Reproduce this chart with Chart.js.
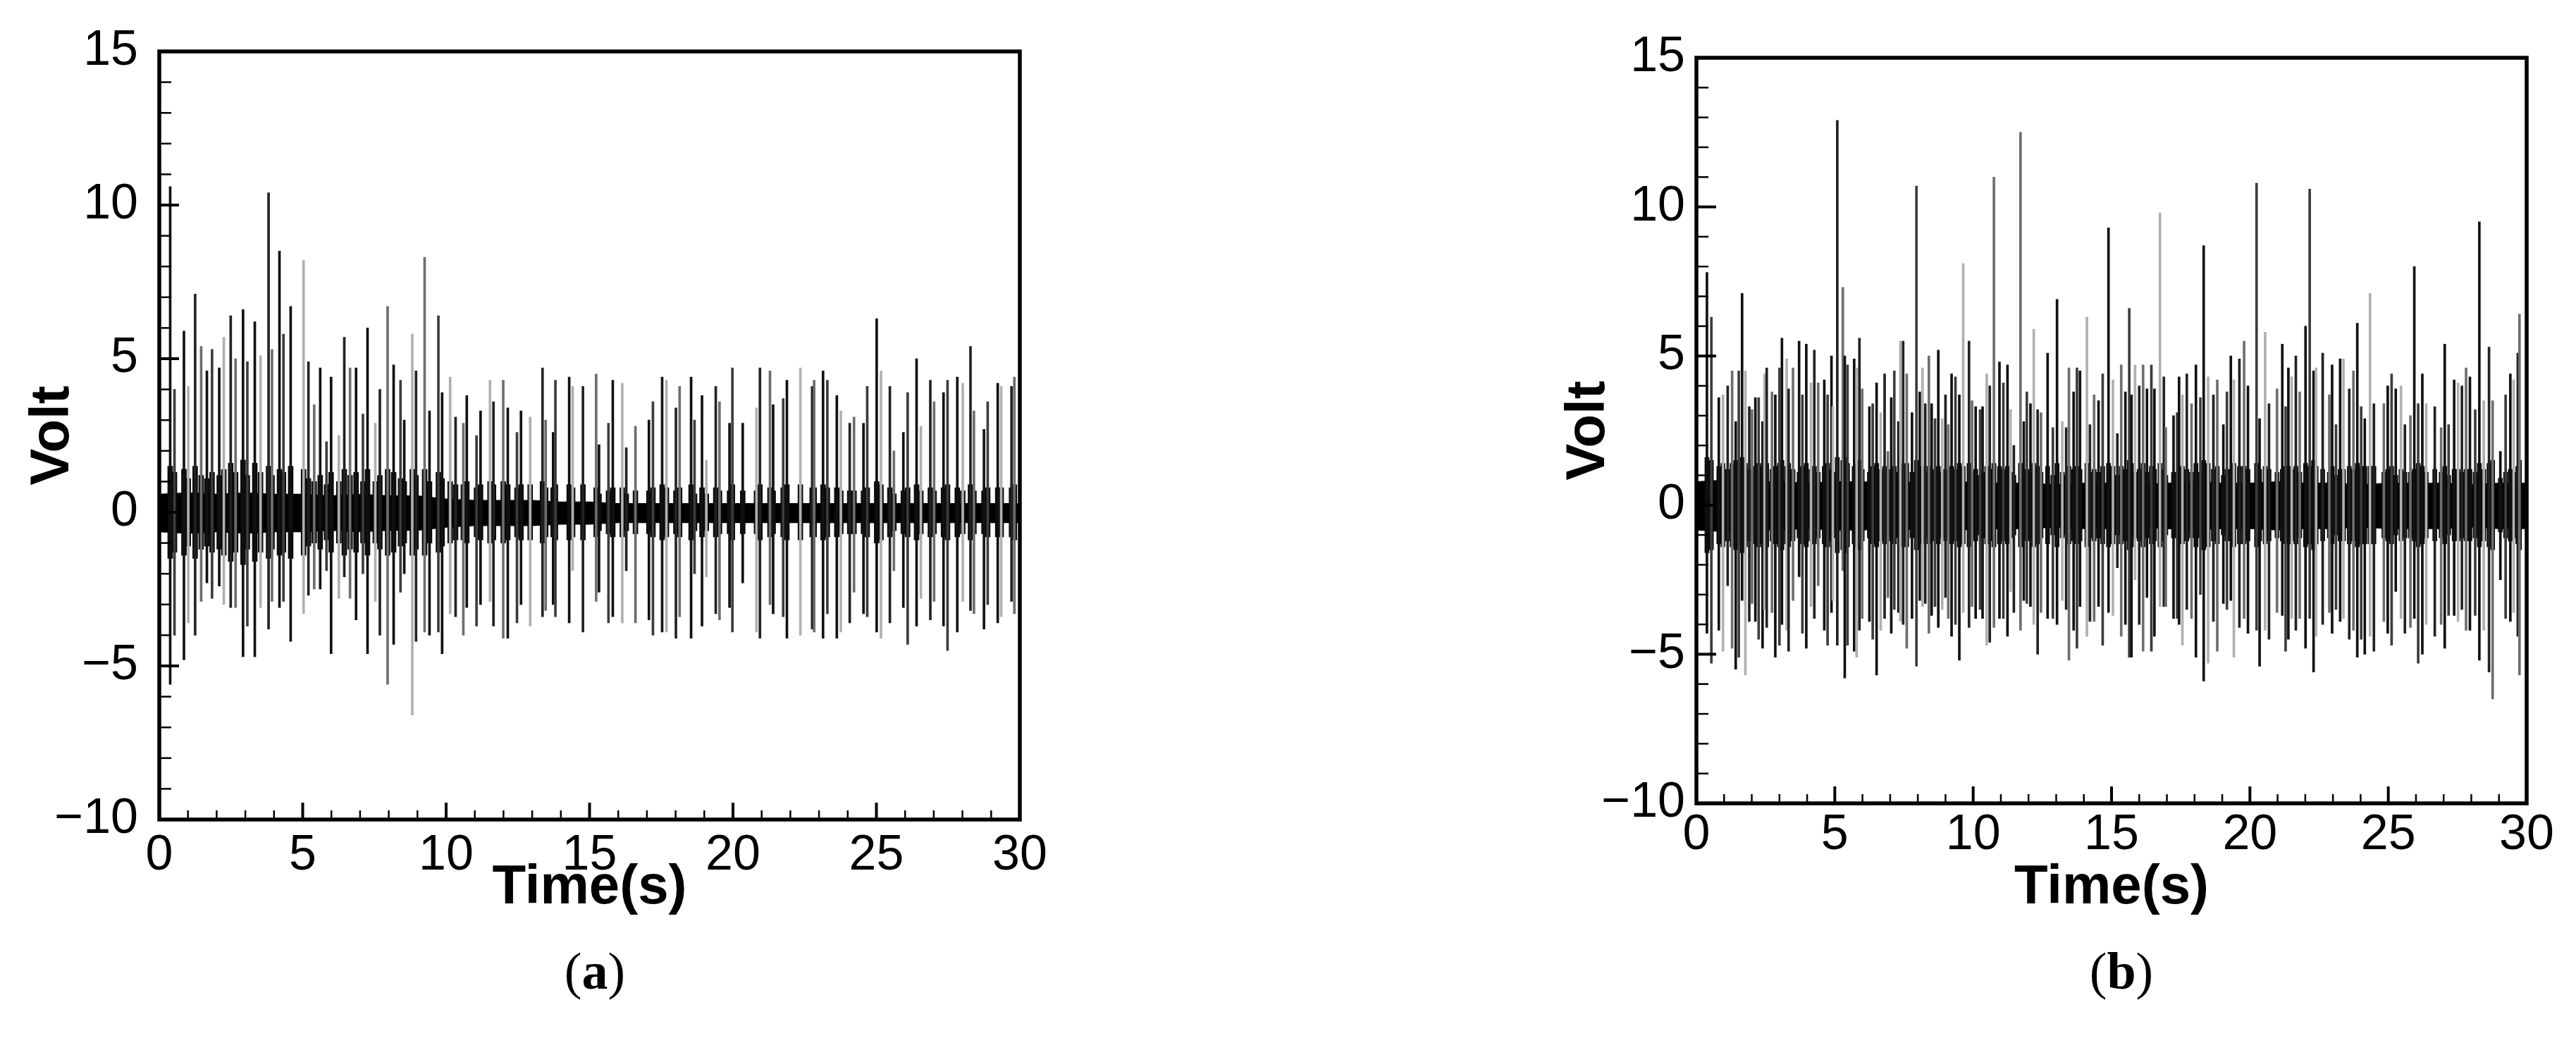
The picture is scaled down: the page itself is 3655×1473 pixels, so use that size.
<!DOCTYPE html>
<html>
<head>
<meta charset="utf-8">
<script src="https://cdn.jsdelivr.net/npm/chart.js@4.4.1/dist/chart.umd.min.js"></script>
<style>
  html, body { margin: 0; padding: 0; background: #fff; }
  #page { position: relative; width: 3655px; height: 1473px; overflow: hidden; background: #fff; }
  canvas { position: absolute; top: 0; }
  #chartA { left: 0; }
  #chartB { left: 2100px; }
  .cap { position: absolute; top: 1378px; transform: translate(-50%, -50%);
         font-family: 'Liberation Serif', 'DejaVu Serif', serif; font-size: 74px; color: #000; white-space: nowrap; }
</style>
</head>
<body>
<div id="page">
  <canvas id="chartA" width="1560" height="1473"></canvas>
  <canvas id="chartB" width="1555" height="1473"></canvas>
  <div class="cap" style="left:844px">(<b>a</b>)</div>
  <div class="cap" style="left:3010px">(<b>b</b>)</div>
</div>
<script>
// axis ticks
const xTicks = [0, 5, 10, 15, 20, 25, 30];
const yTicks = [-10, -5, 0, 5, 10, 15];

// noise band (core of the signal), sampled every second
const bandTimes = [0,1,2,3,4,5,6,7,8,9,10,11,12,13,14,15,16,17,18,19,20,21,22,23,24,25,26,27,28,29,30];

// ---- panel (a) ----
const bandHighA = [0.6,0.65,0.6,0.65,0.6,0.6,0.55,0.6,0.55,0.55,0.45,0.4,0.4,0.4,0.35,0.35,0.3,0.3,0.3,0.3,0.3,0.3,0.3,0.3,0.3,0.3,0.3,0.3,0.3,0.3,0.3];
const bandLowA = [-0.65,-0.7,-0.65,-0.7,-0.65,-0.65,-0.6,-0.65,-0.6,-0.6,-0.5,-0.45,-0.45,-0.45,-0.4,-0.4,-0.35,-0.35,-0.35,-0.35,-0.35,-0.35,-0.35,-0.35,-0.35,-0.35,-0.35,-0.35,-0.35,-0.35,-0.35];

const spikeTimesA = [0.38,0.53,0.86,1.01,1.25,1.46,1.66,1.84,2.09,2.25,2.49,2.66,2.92,3.07,3.33,3.53,3.81,3.93,4.19,4.33,
  4.58,5.03,5.20,5.40,5.61,5.83,5.99,6.26,6.45,6.65,6.86,7.10,7.26,7.53,7.69,7.96,8.17,8.41,8.54,8.82,
  8.95,9.25,9.42,9.73,9.86,10.14,10.33,10.60,10.72,11.06,11.20,11.53,11.65,11.99,12.15,12.47,12.61,12.93,13.36,13.47,
  13.73,13.81,14.29,14.41,14.77,
  15.23,15.33,15.66,15.81,16.14,16.28,16.60,17.07,17.21,17.53,17.68,18.01,18.14,18.54,18.66,18.92,19.07,19.40,19.53,19.88,
  19.98,20.34,20.82,20.94,21.29,21.40,21.75,21.88,22.35,22.76,22.83,23.14,23.29,23.62,23.76,24.07,24.22,24.55,24.68,25.01,
  25.16,25.47,25.61,25.94,26.09,26.40,26.55,26.88,27.01,27.34,27.48,27.82,28.01,28.28,28.40,28.75,28.88,29.23,29.35,29.71,
  29.81];
const spikeHighA = [10.6,4.0,5.9,4.1,7.1,5.4,4.6,5.3,4.7,5.7,6.4,5.0,6.6,4.9,6.2,5.1,10.4,5.3,8.5,5.8,
  6.7,8.2,4.9,3.5,4.7,2.3,4.4,2.5,5.7,4.7,4.7,3.2,6.0,2.9,4.0,6.7,4.8,4.3,3.0,5.8,
  4.6,8.3,3.3,6.4,3.9,4.4,3.1,2.9,3.8,2.5,3.3,4.3,3.6,4.3,3.4,2.6,3.3,3.1,4.7,3.0,
  2.6,4.3,4.4,4.1,4.1,
  4.5,2.2,2.9,4.3,4.2,2.1,2.8,3.0,3.6,4.4,4.3,3.4,4.1,4.4,3.0,3.8,1.7,4.1,3.6,2.9,
  4.7,2.9,3.4,4.7,4.6,3.5,3.7,4.3,4.7,4.1,4.3,4.6,4.3,3.8,3.3,2.9,3.1,2.9,4.1,6.3,
  4.6,4.1,2.0,2.6,3.9,5.0,2.8,4.3,3.6,3.9,4.3,4.4,4.2,5.4,3.3,2.7,3.6,4.2,4.1,4.1,
  4.4];
const spikeLowA = [-5.6,-4.0,-4.8,-3.6,-4.0,-2.9,-2.3,-2.8,-2.4,-3.0,-3.1,-3.1,-4.7,-3.7,-4.7,-3.1,-3.8,-2.9,-3.1,-2.9,
  -4.2,-3.3,-2.7,-2.5,-2.5,-1.9,-4.6,-2.8,-2.1,-2.8,-3.5,-2.0,-4.6,-2.9,-4.0,-5.6,-4.3,-2.6,-2.0,-6.6,
  -4.2,-3.9,-4.0,-3.9,-4.6,-3.3,-3.4,-4.0,-3.1,-3.7,-3.0,-2.9,-3.7,-4.1,-4.1,-3.6,-3.0,-3.7,-3.4,-3.2,
  -3.0,-3.4,-3.6,-1.9,-3.9,
  -2.9,-2.6,-3.6,-3.4,-3.6,-1.9,-3.6,-3.5,-4.0,-3.9,-3.9,-4.1,-3.4,-4.1,-2.0,-3.7,-2.1,-3.3,-3.5,-3.1,
  -3.9,-2.3,-3.9,-4.1,-3.0,-3.3,-3.4,-4.1,-4.0,-3.8,-3.9,-4.1,-3.3,-4.1,-3.9,-3.6,-2.6,-3.3,-3.4,-3.9,
  -4.1,-3.6,-1.9,-3.1,-4.3,-3.7,-2.8,-3.5,-2.9,-3.7,-4.5,-3.9,-2.9,-3.2,-3.3,-3.8,-3.0,-3.6,-3.4,-2.9,
  -3.3];
// ringing burst that follows each spike
const ringA = [1.5,1.3,1.4,1.1,1.5,1.2,1.1,1.3,1.2,1.4,1.6,1.3,1.7,1.2,1.6,1.3,1.5,1.2,1.4,1.3,
  1.5,1.4,1.1,1.0,1.2,0.9,1.3,1.0,1.4,1.2,1.3,1.0,1.4,1.0,1.2,1.4,1.3,1.1,1.0,1.4,
  1.2,1.4,1.0,1.3,1.1,1.0,0.9,0.9,1.0,0.8,0.9,1.0,0.9,1.0,0.9,0.8,0.9,0.9,1.0,0.8,
  0.8,0.9,0.9,0.8,0.9,
  0.8,0.6,0.7,0.8,0.8,0.6,0.7,0.7,0.8,0.9,0.8,0.7,0.8,0.9,0.6,0.8,0.6,0.8,0.7,0.7,
  0.9,0.7,0.7,0.9,0.8,0.7,0.8,0.9,0.9,0.8,0.8,0.9,0.8,0.8,0.7,0.7,0.7,0.7,0.8,1.0,
  0.9,0.8,0.6,0.7,0.8,0.9,0.7,0.8,0.7,0.8,0.9,0.8,0.7,0.9,0.7,0.7,0.8,0.8,0.8,0.8,
  0.9];

// ---- panel (b) ----
const bandHighB = [0.8,0.85,0.8,0.8,0.75,0.8,0.8,0.75,0.8,0.75,0.8,0.75,0.75,0.7,0.75,0.75,0.7,0.75,0.8,0.75,0.75,0.8,0.75,0.75,0.7,0.75,0.75,0.75,0.7,0.75,0.75];
const bandLowB = [-0.85,-0.9,-0.85,-0.85,-0.8,-0.85,-0.85,-0.8,-0.85,-0.8,-0.85,-0.8,-0.8,-0.75,-0.8,-0.8,-0.75,-0.8,-0.85,-0.8,-0.8,-0.85,-0.8,-0.8,-0.75,-0.8,-0.8,-0.8,-0.75,-0.8,-0.8];

const spikeTimesB = [0.38,0.54,0.81,0.96,1.13,1.29,1.42,1.53,1.65,1.77,1.91,2.01,2.13,2.25,2.39,2.46,2.54,2.73,2.85,3.00,
  3.09,3.26,3.33,3.49,3.71,3.83,3.97,4.14,4.26,4.40,4.62,4.74,4.88,4.93,5.09,5.29,5.36,5.46,5.70,5.79,
  5.89,5.99,6.25,6.37,6.51,6.66,6.80,6.92,7.04,7.15,7.30,7.37,7.47,7.60,7.79,7.95,8.07,8.17,8.27,8.40,
  8.50,8.62,8.74,8.88,9.00,9.10,9.22,9.36,9.50,9.64,9.85,9.96,10.09,10.25,10.34,10.49,10.60,10.75,10.95,11.09,
  11.24,11.35,11.47,11.71,11.83,11.94,12.07,12.19,12.33,12.45,12.69,12.88,13.03,13.22,13.36,13.46,13.63,13.75,13.86,14.11,
  14.22,14.37,14.53,14.68,14.89,
  15.05,15.21,15.35,15.50,15.64,15.72,15.85,16.00,16.14,16.28,16.44,16.55,16.75,16.89,16.96,17.24,17.37,17.44,17.56,17.72,
  17.89,18.05,18.21,18.33,18.49,18.68,18.82,19.04,19.17,19.31,19.42,19.62,19.79,19.93,20.24,20.35,20.55,20.69,20.98,21.17,
  21.29,21.39,21.51,21.66,21.80,22.01,22.16,22.30,22.39,22.63,22.87,22.97,23.11,23.26,23.38,23.59,23.74,23.88,24.02,24.15,
  24.34,24.48,24.84,24.98,25.12,25.27,25.46,25.60,25.80,25.94,26.08,26.23,26.37,26.68,26.91,27.04,27.18,27.38,27.52,27.66,
  27.81,27.95,28.14,28.29,28.45,28.64,28.77,29.05,29.24,29.41,29.53,29.68,29.74];
const spikeHighB = [7.8,6.3,3.6,3.7,4.0,4.5,2.8,4.5,7.1,4.5,3.3,3.2,3.6,3.6,2.8,4.4,4.6,3.8,3.7,4.6,
  5.6,4.9,3.9,4.6,5.5,3.7,5.4,4.1,5.2,4.1,4.2,3.7,5.0,3.3,12.9,7.3,5.0,4.7,4.9,4.6,
  5.6,3.9,3.3,3.4,4.1,3.1,4.4,1.8,3.6,4.5,2.8,5.5,5.5,4.4,3.1,10.7,3.8,4.6,3.4,5.0,
  3.4,2.9,5.2,2.9,3.7,2.7,4.4,4.3,3.7,8.1,5.5,3.5,3.3,3.2,3.3,4.4,4.0,11.0,4.8,4.1,
  4.7,3.2,2.0,12.5,2.8,3.8,3.4,5.9,3.2,3.1,5.1,2.6,6.9,2.8,2.6,4.6,3.8,4.6,4.5,6.3,
  2.7,3.7,3.5,4.4,9.3,
  4.2,2.4,4.7,3.8,6.6,3.7,4.7,4.0,4.7,3.9,4.7,3.9,9.8,4.3,2.6,3.0,3.1,4.3,3.7,4.4,
  3.4,4.7,3.6,8.7,4.3,3.7,4.2,2.7,3.8,5.0,4.2,4.9,5.5,4.0,10.8,2.9,5.8,3.4,3.9,5.4,
  3.3,4.6,4.3,5.0,3.8,6.0,10.6,4.5,4.6,5.1,3.7,4.7,2.7,4.9,4.9,3.9,4.5,6.1,3.3,2.9,
  7.1,3.4,3.4,4.0,4.4,3.9,4.0,2.7,3.0,8.0,3.4,4.4,3.4,3.3,2.6,5.4,2.7,4.2,4.1,4.0,
  4.6,4.3,3.2,9.5,3.5,5.3,3.5,1.8,3.7,4.4,4.2,5.1,6.4];
const spikeLowB = [-4.3,-5.3,-4.2,-4.9,-2.7,-4.8,-5.5,-5.1,-3.2,-5.7,-3.9,-3.3,-3.9,-4.5,-4.8,-3.5,-4.1,-3.6,-5.1,-4.7,
  -4.0,-4.2,-4.9,-3.2,-2.4,-4.3,-4.8,-3.4,-3.8,-2.7,-4.2,-4.7,-3.6,-3.2,-4.7,-2.2,-5.8,-4.7,-4.9,-5.1,
  -4.2,-3.8,-3.9,-4.5,-5.7,-4.2,-3.8,-3.1,-4.3,-3.5,-3.6,-3.9,-4.0,-4.8,-3.8,-5.4,-3.2,-3.4,-3.3,-4.3,
  -3.7,-3.4,-4.1,-3.5,-3.1,-3.8,-4.4,-4.0,-5.2,-3.6,-4.1,-3.4,-3.8,-3.5,-3.8,-4.7,-4.6,-4.1,-3.8,-3.8,
  -4.4,-2.9,-3.6,-4.2,-3.2,-3.3,-3.4,-4.0,-5.0,-3.6,-3.8,-3.8,-4.0,-3.2,-3.5,-5.2,-4.2,-4.8,-3.4,-4.4,
  -3.9,-3.9,-3.4,-4.7,-3.6,
  -3.7,-2.1,-4.4,-4.0,-5.1,-5.1,-2.5,-4.0,-4.9,-3.1,-4.9,-4.4,-3.4,-3.4,-3.4,-3.8,-3.8,-4.0,-4.7,-3.5,
  -3.8,-5.1,-3.0,-5.9,-5.3,-3.9,-4.9,-3.3,-3.5,-3.2,-5.1,-4.1,-3.8,-4.3,-4.2,-5.4,-4.2,-4.5,-3.6,-3.7,
  -4.9,-4.5,-3.8,-4.2,-3.8,-4.8,-3.8,-5.6,-4.4,-4.0,-3.6,-4.3,-3.5,-3.9,-3.8,-4.5,-4.2,-5.1,-4.5,-5.0,
  -4.4,-4.9,-3.9,-4.3,-4.7,-2.9,-3.8,-4.3,-4.1,-3.8,-5.3,-5.0,-4.0,-4.4,-4.0,-4.8,-3.7,-3.7,-3.9,-3.5,
  -4.2,-4.2,-3.7,-5.2,-4.2,-5.6,-6.5,-2.5,-3.8,-3.9,-3.6,-4.4,-5.7];
const ringB = [1.6,1.5,1.3,1.4,1.2,1.4,1.5,1.3,1.6,1.4,1.2,1.1,1.3,1.4,1.3,1.2,1.4,1.2,1.3,1.4,
  1.5,1.3,1.4,1.2,1.1,1.3,1.4,1.2,1.3,1.1,1.3,1.4,1.2,1.1,1.6,1.5,1.6,1.4,1.3,1.4,
  1.5,1.2,1.1,1.3,1.4,1.2,1.3,1.0,1.2,1.3,1.1,1.4,1.3,1.4,1.1,1.5,1.2,1.3,1.1,1.3,
  1.2,1.1,1.3,1.1,1.2,1.0,1.3,1.2,1.4,1.3,1.4,1.1,1.2,1.0,1.1,1.3,1.2,1.4,1.3,1.2,
  1.3,1.1,1.0,1.4,1.1,1.2,1.1,1.4,1.3,1.1,1.3,1.0,1.4,1.1,1.0,1.3,1.2,1.3,1.2,1.4,
  1.1,1.2,1.1,1.3,1.4,
  1.3,1.0,1.3,1.2,1.5,1.4,1.1,1.2,1.4,1.1,1.3,1.2,1.4,1.2,1.0,1.1,1.1,1.3,1.3,1.2,
  1.1,1.4,1.1,1.5,1.4,1.2,1.3,1.0,1.2,1.2,1.4,1.3,1.3,1.2,1.4,1.2,1.3,1.2,1.1,1.2,
  1.3,1.3,1.2,1.3,1.1,1.4,1.3,1.5,1.3,1.2,1.1,1.3,1.0,1.2,1.2,1.3,1.2,1.4,1.3,1.3,
  1.3,1.3,1.1,1.2,1.3,1.0,1.2,1.1,1.1,1.2,1.4,1.3,1.1,1.2,1.1,1.3,1.0,1.2,1.2,1.1,
  1.2,1.2,1.1,1.4,1.2,1.4,1.5,0.9,1.1,1.2,1.1,1.3,1.5];

const FONT = "'Liberation Sans', Arial, Helvetica, sans-serif";
const shades = ['#111111', '#3c3c3c', '#111111', '#b0b0b0', '#222222', '#6e6e6e'];

// frame + inward ticks, drawn on top of the data
const framePlugin = {
  id: 'frame',
  afterDraw(chart, args, opts) {
    const { ctx, chartArea: a, scales: { x, y } } = chart;
    ctx.save();
    ctx.strokeStyle = '#000';
    ctx.lineCap = 'butt';
    for (let v = yTicks[0]; v <= yTicks[yTicks.length - 1]; v++) {
      const py = y.getPixelForValue(v);
      const major = v % 5 === 0;
      ctx.lineWidth = major ? 4 : 2.5;
      ctx.beginPath();
      ctx.moveTo(a.left, py);
      ctx.lineTo(a.left + (major ? opts.yMajor : opts.yMinor), py);
      ctx.stroke();
    }
    for (let v = xTicks[0]; v <= xTicks[xTicks.length - 1]; v++) {
      const px = x.getPixelForValue(v);
      const major = v % 5 === 0;
      ctx.lineWidth = major ? 4 : 2.5;
      ctx.beginPath();
      ctx.moveTo(px, a.bottom);
      ctx.lineTo(px, a.bottom - (major ? opts.xMajor : opts.xMinor));
      ctx.stroke();
    }
    ctx.lineWidth = 5.5;
    ctx.strokeRect(a.left, a.top, a.right - a.left, a.bottom - a.top);
    ctx.restore();
  }
};

function makeChart(id, g, bandHigh, bandLow, times, high, low, ring) {
  const ctx = document.getElementById(id).getContext('2d');
  return new Chart(ctx, {
    type: 'bar',
    data: {
      datasets: [
        {
          type: 'line', order: 3,
          data: bandTimes.map((t, i) => ({ x: t, y: bandHigh[i] })),
          borderWidth: 0, pointRadius: 0, tension: 0,
          backgroundColor: '#000', fill: '+1'
        },
        {
          type: 'line', order: 3,
          data: bandTimes.map((t, i) => ({ x: t, y: bandLow[i] })),
          borderWidth: 0, pointRadius: 0, tension: 0, fill: false
        },
        {
          order: 2, grouped: false, barThickness: g.ringWidth, borderWidth: 0,
          data: times.map((t, i) => ({ x: t, y: [-ring[i], ring[i]] })),
          backgroundColor: '#0a0a0a'
        },
        {
          order: 1, grouped: false, barThickness: 3, borderWidth: 0,
          data: times.map((t, i) => ({ x: t, y: [low[i], high[i]] })),
          backgroundColor: (c) => shades[c.dataIndex % shades.length]
        }
      ]
    },
    options: {
      responsive: false,
      animation: false,
      events: [],
      layout: { padding: { left: 0, top: g.top, right: g.right, bottom: 0 } },
      plugins: {
        legend: { display: false },
        tooltip: { enabled: false },
        frame: { yMajor: 28, yMinor: 17, xMajor: 24, xMinor: 13 }
      },
      scales: {
        x: {
          type: 'linear', offset: false,
          min: xTicks[0], max: xTicks[xTicks.length - 1],
          afterBuildTicks: (s) => { s.ticks = xTicks.map(v => ({ value: v })); },
          afterFit: (s) => { s.height = g.xHeight; },
          grid: { display: false, drawTicks: false },
          border: { display: false },
          ticks: { autoSkip: false, maxRotation: 0, padding: g.xPad, color: '#000', font: { family: FONT, size: 70 } },
          title: { display: true, text: 'Time(s)', color: '#000',
                   font: { family: FONT, size: 78, weight: 'bold' }, padding: { top: 0, bottom: 166 } }
        },
        y: {
          min: yTicks[0], max: yTicks[yTicks.length - 1],
          afterBuildTicks: (s) => { s.ticks = yTicks.map(v => ({ value: v })); },
          afterFit: (s) => { s.width = g.yWidth; },
          grid: { display: false, drawTicks: false },
          border: { display: false },
          ticks: { padding: g.yPad, color: '#000', font: { family: FONT, size: 70 },
                   callback: (v) => String(v).replace('-', '\u2212') },
          title: { display: true, text: 'Volt', color: '#000',
                   font: { family: FONT, size: 78, weight: 'bold' }, padding: { top: g.voltPad, bottom: 0 } }
        }
      }
    },
    plugins: [framePlugin]
  });
}

makeChart('chartA', { top: 73, right: 113, xHeight: 310, yWidth: 226, xPad: 10, yPad: 30, voltPad: 29, ringWidth: 7 },
  bandHighA, bandLowA, spikeTimesA, spikeHighA, spikeLowA, ringA);
makeChart('chartB', { top: 82, right: 70, xHeight: 333, yWidth: 307, xPad: 4, yPad: 16, voltPad: 108, ringWidth: 6 },
  bandHighB, bandLowB, spikeTimesB, spikeHighB, spikeLowB, ringB);
</script>
</body>
</html>
